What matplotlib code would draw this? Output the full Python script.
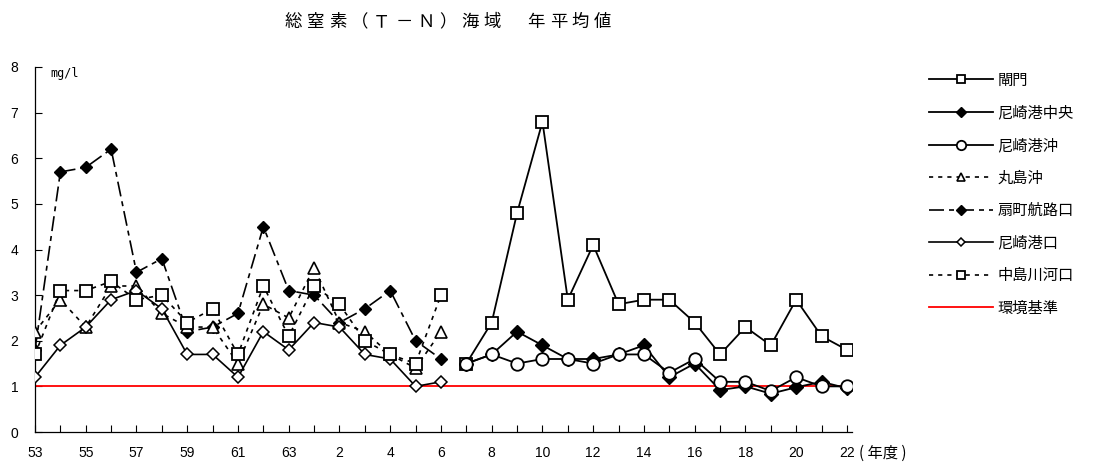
import numpy as np
import matplotlib
matplotlib.use("Agg")
import matplotlib.pyplot as plt

plt.rcParams['font.family'] = ['Noto Sans CJK JP', 'DejaVu Sans']

# 年度: 昭和53..63, 平成元..22
years = ['53', '54', '55', '56', '57', '58', '59', '60', '61', '62', '63',
         '元', '2', '3', '4', '5', '6', '7', '8', '9', '10', '11', '12',
         '13', '14', '15', '16', '17', '18', '19', '20', '21', '22']
N = None

kohmon = [N] * 17 + [1.5, 2.4, 4.8, 6.8, 2.9, 4.1, 2.8, 2.9, 2.9, 2.4, 1.7, 2.3, 1.9, 2.9, 2.1, 1.8]
amagasaki_chuo = [N] * 17 + [1.5, 1.7, 2.2, 1.9, 1.6, 1.6, 1.7, 1.9, 1.2, 1.5, 0.92, 1.0, 0.84, 0.98, 1.1, 0.96]
amagasaki_oki = [N] * 17 + [1.5, 1.7, 1.5, 1.6, 1.6, 1.5, 1.7, 1.7, 1.3, 1.6, 1.1, 1.1, 0.9, 1.2, 1.0, 1.0]
marushima = [2.2, 2.9, 2.3, 3.2, 3.2, 2.6, 2.3, 2.3, 1.5, 2.8, 2.5, 3.6, 2.4, 2.2, 1.7, 1.4, 2.2] + [N] * 16
ogimachi = [1.8, 5.7, 5.8, 6.2, 3.5, 3.8, 2.2, 2.3, 2.6, 4.5, 3.1, 3.0, 2.4, 2.7, 3.1, 2.0, 1.6] + [N] * 16
amagasaki_kou = [1.2, 1.9, 2.3, 2.9, 3.1, 2.7, 1.7, 1.7, 1.2, 2.2, 1.8, 2.4, 2.3, 1.7, 1.6, 1.0, 1.1] + [N] * 16
nakajima = [1.7, 3.1, 3.1, 3.3, 2.9, 3.0, 2.4, 2.7, 1.7, 3.2, 2.1, 3.2, 2.8, 2.0, 1.7, 1.5, 3.0] + [N] * 16
standard = 1.0

title = '総窒素（Ｔ－Ｎ）海域　年平均値'

x = np.arange(len(years))

def arr(v):
    return np.array([np.nan if a is None else a for a in v], dtype=float)

fig = plt.figure(figsize=(10.95, 4.67), dpi=100)
ax = fig.add_axes([35 / 1095, 35 / 467, 817 / 1095, 365 / 467])

ax.plot(x, arr(ogimachi), color='black', lw=1.2, dashes=(9, 3, 3, 3),
        marker='D', ms=6.5, mfc='black', mec='black', label='扇町航路口', zorder=3)
ax.plot(x, arr(marushima), color='black', lw=1.2, dashes=(2.5, 3),
        marker='^', ms=8, mfc='white', mec='black', mew=1.2, label='丸島沖', zorder=4)
ax.plot(x, arr(amagasaki_kou), color='black', lw=1.2, ls='-',
        marker='D', ms=6, mfc='white', mec='black', mew=1.1, label='尼崎港口', zorder=5)
ax.plot(x, arr(nakajima), color='black', lw=1.2, dashes=(2.5, 3),
        marker='s', ms=8, mfc='white', mec='black', mew=1.3, label='中島川河口', zorder=6)
ax.plot(x, arr(kohmon), color='black', lw=1.3, ls='-',
        marker='s', ms=8, mfc='white', mec='black', mew=1.3, label='閘門', zorder=3)
ax.plot(x, arr(amagasaki_chuo), color='black', lw=1.3, ls='-',
        marker='D', ms=7, mfc='black', mec='black', label='尼崎港中央', zorder=4)
ax.plot(x, arr(amagasaki_oki), color='black', lw=1.3, ls='-',
        marker='o', ms=9, mfc='white', mec='black', mew=1.3, label='尼崎港沖', zorder=5)
ax.plot([x[0], x[-1]], [standard, standard], color='red', lw=1.3, label='環境基準', zorder=2)

ax.set_xlim(0, 32.2)
ax.set_ylim(0, 8)
ax.set_yticks(range(0, 9))
ax.set_xticks(x)
ax.set_xticklabels([y if i % 2 == 0 else '' for i, y in enumerate(years)])
ax.tick_params(axis='x', direction='in', length=5, pad=10, width=0.8)
ax.tick_params(axis='y', direction='in', length=5, pad=12, width=0.8)
for lab in ax.get_xticklabels() + ax.get_yticklabels():
    lab.set_fontfamily(['Liberation Sans', 'Noto Sans CJK JP'])
    lab.set_fontsize(10)
for s in ['top', 'right']:
    ax.spines[s].set_visible(False)
for s in ['left', 'bottom']:
    ax.spines[s].set_linewidth(0.9)

fig.text(65 / 1095, 1 - 73 / 467, 'mg/l', fontsize=8.5, ha='center', va='center',
         family=['DejaVu Sans Mono'])

# title with wide character spacing
for i, ch in enumerate(title):
    fig.text((293.5 + 22.07 * i) / 1095, 1 - 22 / 467, ch, fontsize=12.5, ha='center', va='center')

fig.text(883 / 1095, 1 - 453 / 467, '( 年度 )', fontsize=11, ha='center', va='center')

order = ['閘門', '尼崎港中央', '尼崎港沖', '丸島沖', '扇町航路口', '尼崎港口', '中島川河口', '環境基準']
h, l = ax.get_legend_handles_labels()
d = dict(zip(l, h))
fig.legend([d[k] for k in order], order, loc='upper left', bbox_to_anchor=(915 / 1095, 1 - 58 / 467),
           frameon=False, fontsize=11, handlelength=4.2, handletextpad=0.3,
           labelspacing=1.02, markerscale=0.75)

fig.savefig('out.png', dpi=100)
